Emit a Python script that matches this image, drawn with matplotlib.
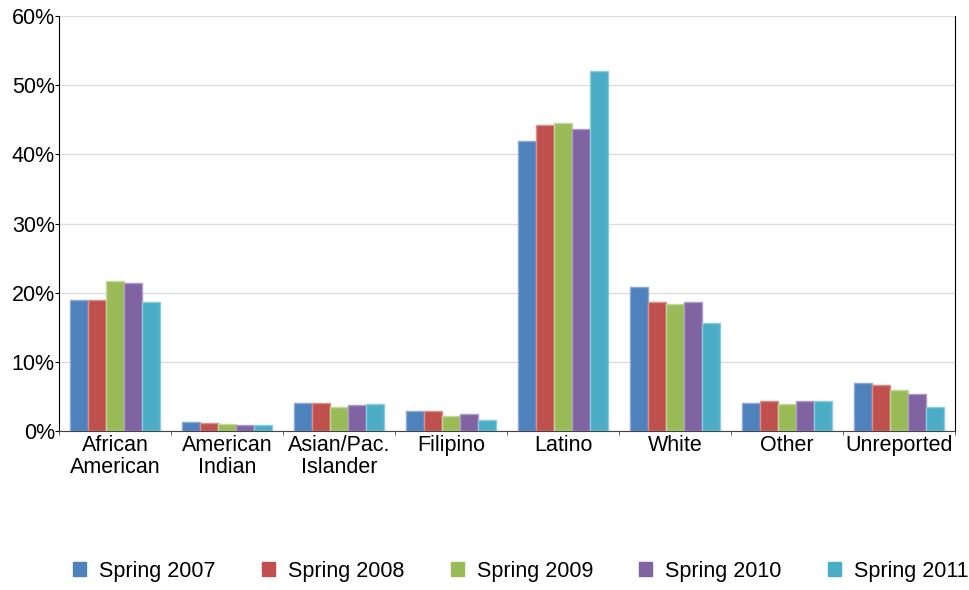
import numpy as np
import matplotlib.pyplot as plt
from matplotlib.patches import Patch

plt.rcParams['font.family'] = ['Liberation Sans', 'DejaVu Sans']

categories = ['African\nAmerican', 'American\nIndian', 'Asian/Pac.\nIslander', 'Filipino',
              'Latino', 'White', 'Other', 'Unreported']
series = ['Spring 2007', 'Spring 2008', 'Spring 2009', 'Spring 2010', 'Spring 2011']

spring_2007 = [19.0, 1.3, 4.1, 2.9, 41.9, 20.8, 4.0, 7.0]
spring_2008 = [18.9, 1.15, 4.1, 2.9, 44.2, 18.7, 4.3, 6.7]
spring_2009 = [21.7, 1.0, 3.4, 2.1, 44.6, 18.3, 3.95, 5.9]
spring_2010 = [21.4, 0.8, 3.7, 2.4, 43.7, 18.7, 4.4, 5.4]
spring_2011 = [18.7, 0.85, 3.85, 1.65, 52.1, 15.6, 4.4, 3.4]

values = [spring_2007, spring_2008, spring_2009, spring_2010, spring_2011]
colors = ['#4F81BD', '#C0504D', '#9BBB59', '#8064A2', '#4BACC6']
edges = ['#8AABD6', '#DA8F8D', '#C3D89A', '#AD9AC6', '#8ACCDD']

fig = plt.figure(figsize=(9.7, 5.9), dpi=100)
ax = fig.add_axes([59 / 970, 1 - 431 / 590, (955 - 59) / 970, (431 - 16) / 590])

x = np.arange(len(categories))
w = 0.16
for i, (vals, c, ec) in enumerate(zip(values, colors, edges)):
    ax.bar(x + (i - 2) * w, vals, width=w, color=c, edgecolor=ec, linewidth=1.0,
           label=series[i], zorder=3)

ax.set_xlim(-0.5, len(categories) - 0.5)
ax.set_ylim(0, 60)
ax.set_yticks(np.arange(0, 61, 10))
ax.set_yticklabels([f'{v}%' for v in range(0, 61, 10)], fontsize=15.5)
ax.set_xticks(x)
ax.set_xticklabels(categories, fontsize=15.5, linespacing=1.05)
ax.set_xticks(np.arange(-0.5, len(categories)), minor=True)
ax.tick_params(axis='x', which='major', length=0, pad=3)
ax.tick_params(axis='x', which='minor', length=3, color='#444444')
ax.tick_params(axis='y', length=3, pad=0)

ax.grid(axis='y', color='#DDDDDD', linewidth=1, zorder=0)
ax.spines['top'].set_visible(False)
ax.spines['left'].set_color('black')
ax.spines['right'].set_color('black')
ax.spines['bottom'].set_color('#444444')

handles = [Patch(facecolor=c, edgecolor=c) for c in colors]
fig.legend(handles, series, loc='center', bbox_to_anchor=(0.537, 0.032), ncol=5,
           frameon=False, fontsize=15.5, handlelength=0.6, handleheight=0.6,
           handletextpad=0.6, columnspacing=2.16, borderpad=0, borderaxespad=0)

fig.savefig('out.png', dpi=100)
